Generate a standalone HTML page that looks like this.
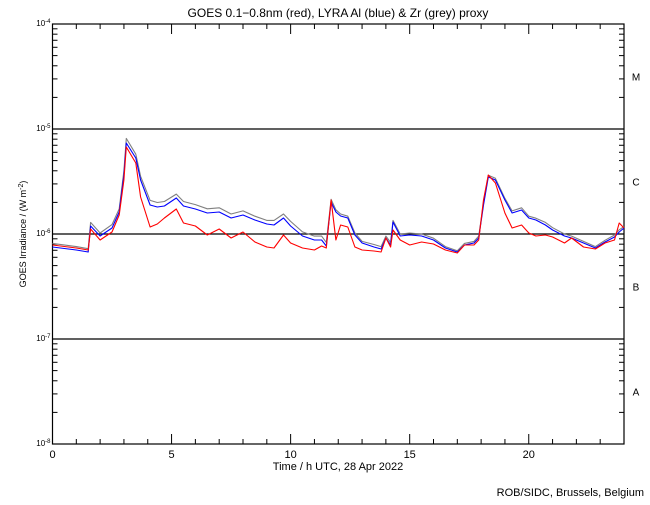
<!DOCTYPE html>
<html><head><meta charset="utf-8"><style>
body{margin:0;background:#fff}
svg text{font-family:"Liberation Sans",sans-serif;fill:#000}
</style></head><body>
<svg id="chart" width="650" height="500" xmlns="http://www.w3.org/2000/svg">
<rect width="650" height="500" fill="#fff"/>
<text x="338" y="17" font-size="12" text-anchor="middle">GOES 0.1−0.8nm (red), LYRA Al (blue) &amp; Zr (grey) proxy</text>
<g id="axes"></g>
<g id="series"></g>
<text x="338" y="470" font-size="11" text-anchor="middle">Time / h UTC, 28 Apr 2022</text>
<text transform="translate(26,234) rotate(-90)" font-size="9" text-anchor="middle">GOES Irradiance / (W m<tspan dy="-3" font-size="7">-2</tspan><tspan dy="3">)</tspan></text>
<text x="644" y="496" font-size="11" text-anchor="end">ROB/SIDC, Brussels, Belgium</text>
</svg>
<script>
const hours=[0,1,1.5,1.6,2,2.5,2.8,3,3.1,3.5,3.7,4.1,4.4,4.7,5.2,5.5,6,6.5,7,7.5,8,8.5,9,9.3,9.7,10,10.5,11,11.3,11.5,11.7,11.9,12.1,12.4,12.7,13,13.5,13.8,14,14.2,14.3,14.6,15,15.5,16,16.5,17,17.3,17.7,17.9,18.1,18.3,18.6,19,19.3,19.7,20,20.3,20.7,21,21.5,21.8,22.3,22.8,23.2,23.6,23.8,24];
const goesLog=[-6.105,-6.133,-6.152,-5.952,-6.057,-5.981,-5.819,-5.486,-5.171,-5.324,-5.648,-5.933,-5.905,-5.848,-5.762,-5.895,-5.924,-6.010,-5.952,-6.038,-5.981,-6.076,-6.124,-6.133,-6.010,-6.086,-6.133,-6.152,-6.114,-6.133,-5.676,-6.057,-5.914,-5.933,-6.124,-6.152,-6.162,-6.171,-6.038,-6.124,-5.962,-6.057,-6.105,-6.076,-6.095,-6.152,-6.181,-6.105,-6.105,-6.057,-5.676,-5.438,-5.514,-5.800,-5.943,-5.914,-5.990,-6.019,-6.010,-6.029,-6.086,-6.038,-6.124,-6.143,-6.086,-6.057,-5.895,-5.943];
const alLog=[-6.124,-6.152,-6.171,-5.924,-6.019,-5.943,-5.790,-5.438,-5.133,-5.276,-5.486,-5.724,-5.743,-5.733,-5.657,-5.733,-5.762,-5.800,-5.790,-5.848,-5.819,-5.867,-5.905,-5.914,-5.848,-5.924,-6.019,-6.057,-6.057,-6.114,-5.695,-5.790,-5.829,-5.848,-6.010,-6.086,-6.124,-6.143,-6.038,-6.105,-5.886,-6.019,-6.010,-6.019,-6.057,-6.133,-6.171,-6.105,-6.086,-6.038,-5.724,-5.457,-5.486,-5.676,-5.800,-5.771,-5.848,-5.867,-5.914,-5.962,-6.019,-6.038,-6.086,-6.133,-6.076,-6.029,-5.981,-5.943];
const zrLog=[-6.09,-6.12,-6.14,-5.89,-5.99,-5.91,-5.76,-5.40,-5.09,-5.24,-5.45,-5.68,-5.70,-5.69,-5.62,-5.69,-5.72,-5.76,-5.75,-5.81,-5.78,-5.83,-5.87,-5.87,-5.81,-5.88,-5.98,-6.02,-6.02,-6.08,-5.67,-5.77,-5.81,-5.83,-5.99,-6.07,-6.10,-6.12,-6.02,-6.08,-5.87,-6.00,-5.99,-6.00,-6.04,-6.12,-6.16,-6.09,-6.07,-6.02,-5.71,-5.44,-5.47,-5.66,-5.78,-5.75,-5.83,-5.85,-5.89,-5.94,-6.00,-6.02,-6.07,-6.12,-6.06,-6.01,-5.96,-5.93];
const xTicks=[0,5,10,15,20];
const yDecades=[-4,-5,-6,-7,-8];
const classes=["M","C","B","A"];
const L=52.5,R=624,T=24,B=444;
const X=h=>L+(h/24)*(R-L);
const Y=lg=>T+(-4-lg)*(B-T)/4;
const NS="http://www.w3.org/2000/svg";
const ax=document.getElementById('axes');
function mk(tag,attrs,parent){const e=document.createElementNS(NS,tag);for(const k in attrs)e.setAttribute(k,attrs[k]);parent.appendChild(e);return e;}
const frame=mk('rect',{x:L,y:T,width:R-L,height:B-T,fill:'none',stroke:'#000','stroke-width':1.2},ax);


for(let h=0;h<=24;h++){const len=(h%5===0)?10:5;
 mk('line',{x1:X(h),x2:X(h),y1:B,y2:B-len,stroke:'#000'},ax);
 mk('line',{x1:X(h),x2:X(h),y1:T,y2:T+len,stroke:'#000'},ax);}
xTicks.forEach(h=>{const t=mk('text',{x:X(h),y:458,'font-size':11,'text-anchor':'middle'},ax);t.textContent=h;
 
 });
yDecades.forEach((d,i)=>{
 const y=Y(d);
 if(d<-4&&d>-8){const gl=mk('line',{x1:L,x2:R,y1:y,y2:y,stroke:'#000','stroke-width':1.2},ax);
  
  }
 mk('line',{x1:L,x2:L+10,y1:y,y2:y,stroke:'#000'},ax);
 mk('line',{x1:R,x2:R-10,y1:y,y2:y,stroke:'#000'},ax);
 const t=mk('text',{x:L-2,y:y+2,'font-size':8,'text-anchor':'end'},ax);
 t.innerHTML='10<tspan dy="-3" font-size="6">'+d+'</tspan>';
 
 
 if(d>-8){for(let m=2;m<=9;m++){const yy=Y(d-1+Math.log10(m));
  mk('line',{x1:L,x2:L+5,y1:yy,y2:yy,stroke:'#000'},ax);
  mk('line',{x1:R,x2:R-5,y1:yy,y2:yy,stroke:'#000'},ax);}}
});
classes.forEach((c,i)=>{const t=mk('text',{x:636,y:Y(-4.5-i)+4,'font-size':10,'text-anchor':'middle'},ax);t.textContent=c;
 
 });
const sg=document.getElementById('series');
[[zrLog,'#808080','zr-proxy-line'],[alLog,'#0000ff','al-proxy-line'],[goesLog,'#ff0000','goes-line']].forEach(([vals,col,name])=>{
 const p=mk('polyline',{points:hours.map((h,i)=>X(h).toFixed(1)+','+Y(vals[i]).toFixed(1)).join(' '),fill:'none',stroke:col,'stroke-width':1.1,'stroke-linejoin':'round'},sg);
 
 
});
</script>
</body></html>
